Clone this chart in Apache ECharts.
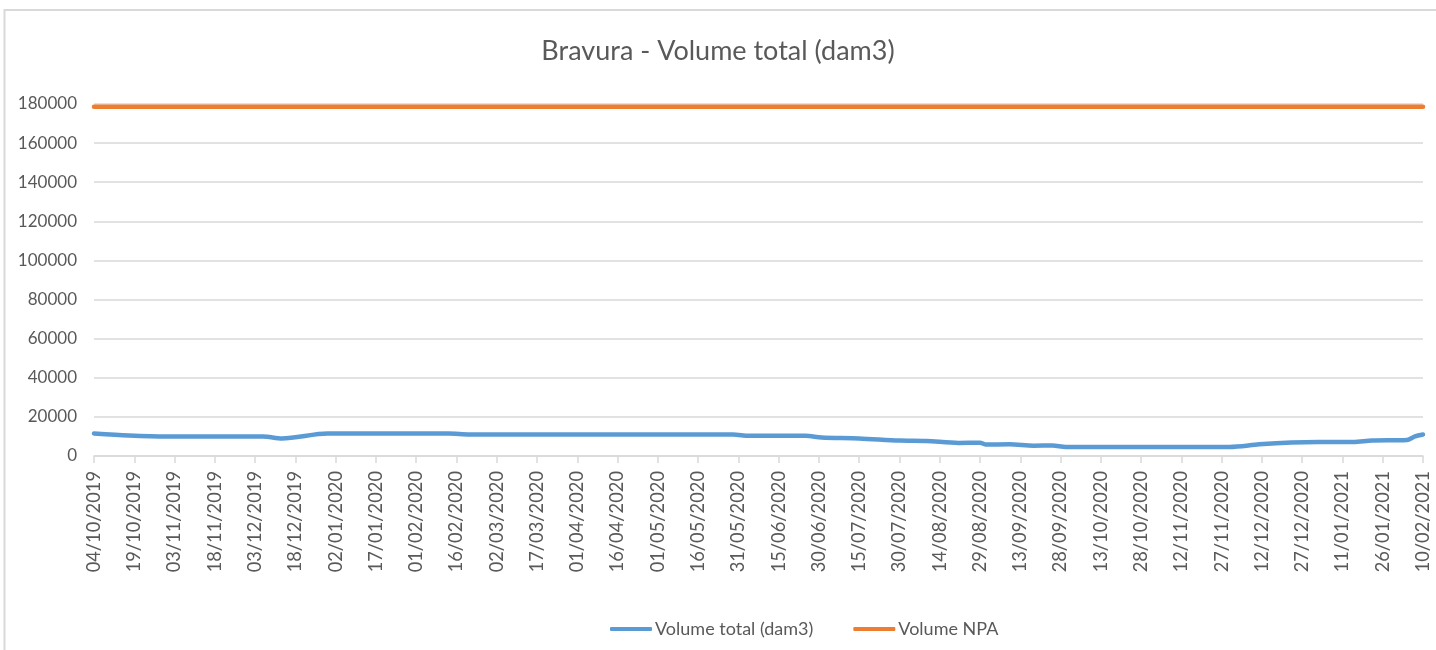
<!DOCTYPE html>
<html>
<head>
<meta charset="utf-8">
<title>Bravura - Volume total (dam3)</title>
<script src="https://cdn.jsdelivr.net/npm/echarts@6/dist/echarts.min.js"></script>
<style>
  html, body { margin: 0; padding: 0; background: #fff; }
  #chart { width: 1436px; height: 650px; }
</style>
</head>
<body>
<div id="chart"></div>
<script>
// série "Volume total (dam3)" (dd/mm/yyyy)
const volumeDates = [
  "04/10/2019", "17/10/2019", "31/10/2019", "06/12/2019", "13/12/2019",
  "30/12/2019", "13/02/2020", "21/02/2020", "29/05/2020", "04/06/2020",
  "25/06/2020", "01/07/2020", "15/07/2020", "30/07/2020", "09/08/2020",
  "21/08/2020", "29/08/2020", "31/08/2020", "09/09/2020", "18/09/2020",
  "25/09/2020", "30/09/2020", "30/11/2020", "11/12/2020", "23/12/2020",
  "02/01/2021", "15/01/2021", "22/01/2021", "04/02/2021", "07/02/2021",
  "10/02/2021"
];
const volumeTotal = [
  11500, 10500, 10000, 10000, 9000,
  11500, 11500, 11000, 11000, 10300,
  10300, 9500, 9000, 7900, 7700,
  6700, 6800, 5900, 5950, 5300,
  5400, 4650, 4650, 5950, 6900,
  7200, 7200, 7900, 8200, 10000,
  11000
];

// série "Volume NPA"
const npaDates = ["04/10/2019", "10/02/2021"];
const npaValues = [178600, 178600];

const startDate = "04/10/2019";
const endDate = "10/02/2021";
const DAY = 86400000;

function parseDate(s) {
  const p = s.split("/");
  return Date.UTC(+p[2], +p[1] - 1, +p[0]);
}
const t0 = parseDate(startDate);
function dayOffset(s) {
  return Math.round((parseDate(s) - t0) / DAY);
}
function pad(n) {
  return (n < 10 ? "0" : "") + n;
}
function fmtDay(v) {
  const d = new Date(t0 + v * DAY);
  return pad(d.getUTCDate()) + "/" + pad(d.getUTCMonth() + 1) + "/" + d.getUTCFullYear();
}

const textColor = "#595959";
const gridColor = "#d9d9d9";
const font = "Lato, 'Open Sans', sans-serif";

const chart = echarts.init(document.getElementById("chart"));
const option = {
  backgroundColor: "#fff",
  animation: false,
  title: {
    text: "Bravura - Volume total (dam3)",
    left: "center",
    top: 33,
    textStyle: {
      color: textColor,
      fontSize: 27,
      fontWeight: "normal",
      fontFamily: font,
    },
  },
  legend: {
    left: 605,
    top: 615,
    itemWidth: 42,
    itemHeight: 4,
    itemGap: 40,
    icon: "roundRect",
    textStyle: {
      color: textColor,
      fontSize: 18,
      fontFamily: font,
      padding: [0, 0, 0, -2],
    },
    data: ["Volume total (dam3)", "Volume NPA"],
  },
  grid: {
    left: 94,
    right: 13,
    top: 104,
    bottom: 194,
    outerBoundsMode: "none",
  },
  xAxis: {
    type: "value",
    min: 0,
    max: dayOffset(endDate),
    interval: 15,
    splitLine: { show: false },
    axisLine: { lineStyle: { color: gridColor, width: 1.5 } },
    axisTick: { show: true, length: 7, lineStyle: { color: gridColor, width: 1.5 } },
    axisLabel: {
      rotate: 90,
      margin: 15,
      color: textColor,
      fontSize: 18.3,
      fontFamily: font,
      formatter: fmtDay,
    },
  },
  yAxis: {
    type: "value",
    min: 0,
    max: 180000,
    interval: 20000,
    axisLine: { show: false },
    axisTick: { show: false },
    splitLine: { lineStyle: { color: gridColor, width: 1.5 } },
    axisLabel: {
      margin: 17,
      color: textColor,
      fontSize: 17,
      fontFamily: font,
      formatter: (v) => String(v),
    },
  },
  series: [
    {
      name: "Volume total (dam3)",
      type: "line",
      data: volumeDates.map((d, i) => [dayOffset(d), volumeTotal[i]]),
      showSymbol: false,
      smooth: 0.3,
      color: "#5B9BD5",
      lineStyle: { width: 4.5, cap: "round", join: "round" },
    },
    {
      name: "Volume NPA",
      type: "line",
      data: npaDates.map((d, i) => [dayOffset(d), npaValues[i]]),
      showSymbol: false,
      color: "#ED7D31",
      lineStyle: { width: 4.5, cap: "round" },
    },
  ],
  graphic: [
    {
      type: "rect",
      silent: true,
      shape: { x: 4.5, y: 10, width: 1440, height: 660 },
      style: { fill: null, stroke: gridColor, lineWidth: 2 },
    },
  ],
};
chart.setOption(option);
</script>
</body>
</html>
